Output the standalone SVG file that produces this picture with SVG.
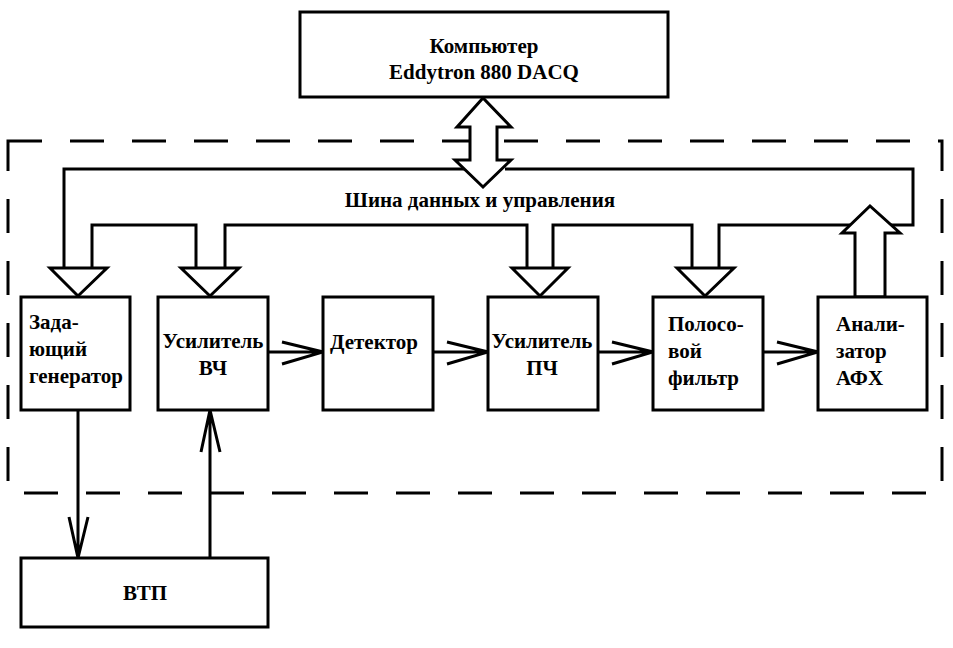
<svg xmlns="http://www.w3.org/2000/svg" width="953" height="648" viewBox="0 0 953 648">
<style>
.b{fill:#fff;stroke:#000;stroke-width:3}
.l{fill:none;stroke:#000;stroke-width:3}
.h{fill:#fff;stroke:#000;stroke-width:3;stroke-linejoin:miter}
text{font-family:'Liberation Serif','Times New Roman','DejaVu Serif',serif;font-weight:bold;font-size:21px;fill:#000}
.c{text-anchor:middle}
</style>
<rect width="953" height="648" fill="#fff"/>
<rect x="8" y="141" width="934" height="352" fill="none" stroke="#000" stroke-width="3" stroke-dasharray="34,28"/>
<g id="connectors">
<polyline class="l" points="465,169 64,169 64,268"/>
<polyline class="l" points="505,169 913,169 913,225 880,225"/>
<polyline class="l" points="92,268 92,225 196,225 196,268"/>
<polyline class="l" points="225,268 225,225 527,225 527,268"/>
<polyline class="l" points="553,268 553,225 692,225 692,268"/>
<polyline class="l" points="719,268 719,225 860,225"/>
<polygon class="h" points="64,268 50,268 78,296 107,268 92,268"/>
<polygon class="h" points="196,268 181,268 210,296 239,268 225,268"/>
<polygon class="h" points="527,268 512,268 540,296 568,268 553,268"/>
<polygon class="h" points="692,268 677,268 705,296 734,268 719,268"/>
<polygon class="h" points="855,297 855,233 842,233 870,206 900,233 885,233 885,297"/>
<polygon class="h" points="470,127 457,127 483,98 511,127 497,127 497,160 511,160 483,187 455,160 470,160"/>
<g class="l">
<path d="M268 352H323M282 342L323 352L282 364"/>
<path d="M433 352H488M447 342L488 352L447 364"/>
<path d="M598 352H653M612 342L653 352L612 364"/>
<path d="M763 352H818M777 342L818 352L777 364"/>
<path d="M78 410V558M69 517L78 558L88 517"/>
<path d="M210 558V410M201 452L210 410L220 452"/>
</g>
</g>
<g id="computer"><rect class="b" x="300" y="12" width="368" height="85"/><text class="c" x="484" y="53">Компьютер</text><text class="c" x="484" y="79">Eddytron 880 DACQ</text></g>
<text class="c" x="480" y="207">Шина данных и управления</text>
<g id="gen"><rect class="b" x="21" y="297" width="109" height="113"/><text x="29" y="329">Зада-</text><text x="29" y="356">ющий</text><text x="29" y="383">генератор</text></g>
<g id="uvch"><rect class="b" x="158" y="297" width="110" height="113"/><text class="c" x="213" y="348">Усилитель</text><text class="c" x="213" y="375">ВЧ</text></g>
<g id="det"><rect class="b" x="323" y="297" width="110" height="113"/><text class="c" x="374" y="349">Детектор</text></g>
<g id="upch"><rect class="b" x="488" y="297" width="110" height="113"/><text class="c" x="542" y="348">Усилитель</text><text class="c" x="542" y="375">ПЧ</text></g>
<g id="filt"><rect class="b" x="653" y="297" width="110" height="113"/><text x="668" y="331">Полосо-</text><text x="668" y="358">вой</text><text x="668" y="385">фильтр</text></g>
<g id="afh"><rect class="b" x="818" y="297" width="109" height="113"/><text x="836" y="331">Анали-</text><text x="836" y="358">затор</text><text x="836" y="385">АФХ</text></g>
<g id="vtp"><rect class="b" x="21" y="558" width="247" height="69"/><text class="c" x="145" y="600">ВТП</text></g>
</svg>
